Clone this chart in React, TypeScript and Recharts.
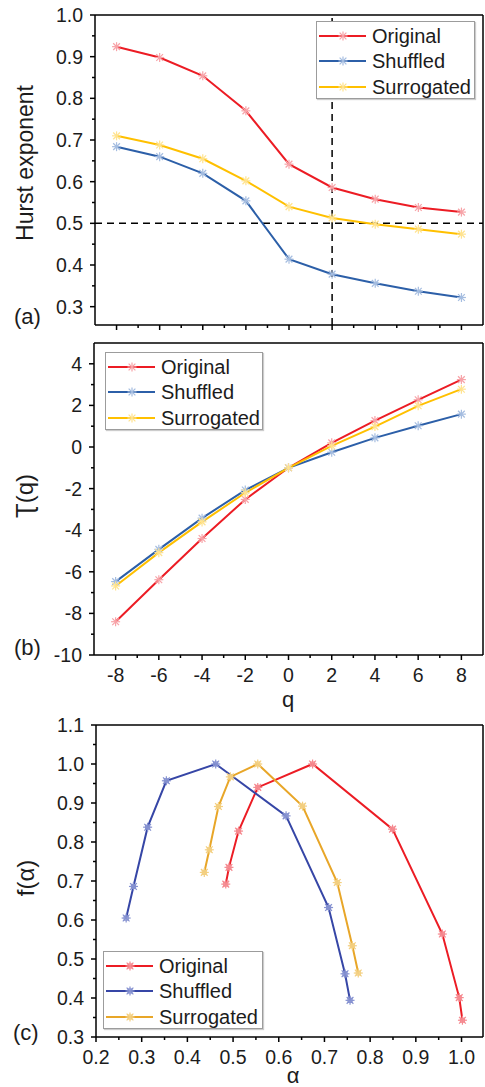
import React from 'react';
import { LineChart, Line, XAxis, YAxis, ReferenceLine, Legend, Label } from 'recharts';

const FONT = '"Liberation Sans", Arial, Helvetica, sans-serif';
const INK = '#1c1c1c';

// (a) generalized Hurst exponent h(q)
const qValues = [-8, -6, -4, -2, 0, 2, 4, 6, 8];
const hurstOriginal = [0.924, 0.898, 0.854, 0.77, 0.642, 0.586, 0.558, 0.538, 0.527];
const hurstShuffled = [0.684, 0.66, 0.62, 0.554, 0.414, 0.378, 0.356, 0.337, 0.322];
const hurstSurrogated = [0.71, 0.688, 0.655, 0.602, 0.54, 0.513, 0.498, 0.486, 0.474];

// (b) mass exponent tau(q)
const tauOriginal = [-8.4, -6.38, -4.4, -2.52, -1.0, 0.2, 1.27, 2.27, 3.24];
const tauShuffled = [-6.47, -4.92, -3.42, -2.07, -1.0, -0.25, 0.44, 1.02, 1.58];
const tauSurrogated = [-6.68, -5.08, -3.6, -2.2, -1.0, 0.05, 0.98, 1.98, 2.78];

// (c) singularity spectrum f(alpha)
const alphaOriginal = [0.484, 0.491, 0.512, 0.554, 0.674, 0.849, 0.958, 0.995, 1.002];
const fOriginal = [0.692, 0.735, 0.828, 0.94, 1.0, 0.833, 0.564, 0.401, 0.343];
const alphaShuffled = [0.266, 0.282, 0.313, 0.354, 0.462, 0.616, 0.709, 0.745, 0.756];
const fShuffled = [0.605, 0.686, 0.838, 0.957, 1.0, 0.867, 0.632, 0.462, 0.394];
const alphaSurrogated = [0.437, 0.448, 0.468, 0.494, 0.554, 0.652, 0.728, 0.761, 0.774];
const fSurrogated = [0.722, 0.78, 0.891, 0.967, 1.0, 0.892, 0.696, 0.534, 0.464];

// ticks
const qMajor = [-8, -6, -4, -2, 0, 2, 4, 6, 8];
const qMinor = [-7, -5, -3, -1, 1, 3, 5, 7];
const hurstMajor = [0.3, 0.4, 0.5, 0.6, 0.7, 0.8, 0.9, 1.0];
const hurstMinor = [0.35, 0.45, 0.55, 0.65, 0.75, 0.85, 0.95];
const tauMajor = [-10, -8, -6, -4, -2, 0, 2, 4];
const tauMinor = [-9, -7, -5, -3, -1, 1, 3];
const alphaMajor = [0.2, 0.3, 0.4, 0.5, 0.6, 0.7, 0.8, 0.9, 1.0];
const alphaMinor = [0.25, 0.35, 0.45, 0.55, 0.65, 0.75, 0.85, 0.95];
const fMajor = [0.3, 0.4, 0.5, 0.6, 0.7, 0.8, 0.9, 1.0, 1.1];
const fMinor = [0.35, 0.45, 0.55, 0.65, 0.75, 0.85, 0.95, 1.05];

const seriesNames = ['Original', 'Shuffled', 'Surrogated'];

const hurstData = qValues.map((q, i) => ({
  q,
  Original: hurstOriginal[i],
  Shuffled: hurstShuffled[i],
  Surrogated: hurstSurrogated[i],
}));
const tauData = qValues.map((q, i) => ({
  q,
  Original: tauOriginal[i],
  Shuffled: tauShuffled[i],
  Surrogated: tauSurrogated[i],
}));
const spectrum: Record<string, { alpha: number; f: number }[]> = {
  Original: alphaOriginal.map((a, i) => ({ alpha: a, f: fOriginal[i] })),
  Shuffled: alphaShuffled.map((a, i) => ({ alpha: a, f: fShuffled[i] })),
  Surrogated: alphaSurrogated.map((a, i) => ({ alpha: a, f: fSurrogated[i] })),
};

const COLORS_AB: Record<string, { line: string; mark: string }> = {
  Original: { line: '#ec1c24', mark: '#f7a3a8' },
  Shuffled: { line: '#2c5fa8', mark: '#a5bde0' },
  Surrogated: { line: '#ffc000', mark: '#ffe38f' },
};
const COLORS_C: Record<string, { line: string; mark: string }> = {
  Original: { line: '#ec1c24', mark: '#f58a90' },
  Shuffled: { line: '#3646a6', mark: '#8591d0' },
  Surrogated: { line: '#e8a628', mark: '#f3cf80' },
};

const FRAME = { stroke: '#000', strokeWidth: 1.5 };

function Star({ cx, cy, color, boxed }: any) {
  if (cx == null || cy == null) return null;
  const r = 4.5;
  const d = r * 0.75;
  return (
    <g stroke={color} strokeWidth={1.2} fill="none">
      <line x1={cx - r} y1={cy} x2={cx + r} y2={cy} />
      <line x1={cx} y1={cy - r} x2={cx} y2={cy + r} />
      <line x1={cx - d} y1={cy - d} x2={cx + d} y2={cy + d} />
      <line x1={cx - d} y1={cy + d} x2={cx + d} y2={cy - d} />
      {boxed && <rect x={cx - 2} y={cy - 2} width={4} height={4} />}
    </g>
  );
}

const isIn = (list: number[], v: number) => list.some((m) => Math.abs(m - v) < 1e-9);

function makeXTick(major: number[], showLabels: boolean, digits: number) {
  return (props: any) => {
    const { x, y, payload } = props;
    const v = payload.value;
    const big = isIn(major, v);
    return (
      <g>
        <line x1={x} x2={x} y1={y} y2={y + (big ? 5 : 3)} stroke="#000" strokeWidth={1.5} />
        {big && showLabels && (
          <text x={x} y={y + 26.5} textAnchor="middle" fontSize={19.5} fontFamily={FONT} fill={INK}>
            {v.toFixed(digits)}
          </text>
        )}
      </g>
    );
  };
}

function makeYTick(major: number[], digits: number) {
  return (props: any) => {
    const { x, y, payload } = props;
    const v = payload.value;
    const big = isIn(major, v);
    return (
      <g>
        <line x1={x} x2={x - (big ? 5 : 3)} y1={y} y2={y} stroke="#000" strokeWidth={1.5} />
        {big && (
          <text x={x - 12} y={y + 7} textAnchor="end" fontSize={19.5} fontFamily={FONT} fill={INK}>
            {v.toFixed(digits)}
          </text>
        )}
      </g>
    );
  };
}

function title(text: string, x: number, y: number, rotate: boolean, size = 23) {
  return () => (
    <text
      transform={rotate ? `translate(${x},${y}) rotate(-90)` : `translate(${x},${y})`}
      textAnchor={rotate ? 'middle' : 'start'}
      fontSize={size}
      fontFamily={FONT}
      fill={INK}
    >
      {text}
    </text>
  );
}

function centered(text: string, x: number, y: number, size = 23) {
  return () => (
    <text x={x} y={y} textAnchor="middle" fontSize={size} fontFamily={FONT} fill={INK}>
      {text}
    </text>
  );
}

function LegendBox({ colors, boxed }: { colors: Record<string, { line: string; mark: string }>; boxed: boolean }) {
  return (
    <div
      style={{
        border: '1px solid #9c9c9c',
        boxShadow: '1px 1px 1px rgba(0,0,0,0.2)',
        background: '#fff',
        boxSizing: 'border-box',
        width: '100%',
        height: 78,
        paddingTop: 1,
      }}
    >
      {seriesNames.map((name) => (
        <div key={name} style={{ display: 'flex', alignItems: 'center', height: 25.5 }}>
          <svg width={50} height={20} style={{ marginLeft: 2, flex: 'none' }}>
            <line x1={0} x2={47} y1={10} y2={10} stroke={colors[name].line} strokeWidth={2} />
            <Star cx={24} cy={10} color={colors[name].mark} boxed={boxed} />
          </svg>
          <span style={{ marginLeft: 3, fontSize: 20, fontFamily: FONT, color: INK, lineHeight: '20px', whiteSpace: 'nowrap' }}>
            {name}
          </span>
        </div>
      ))}
    </div>
  );
}

export default function App() {
  return (
    <div style={{ position: 'absolute', left: 0, top: 0, width: 485, height: 1087, background: '#fff', overflow: 'hidden' }}>
      {/* (a) Hurst exponent */}
      <div style={{ position: 'absolute', left: 0, top: 0 }}>
        <LineChart width={485} height={340} data={hurstData} margin={{ top: 15, right: 2, bottom: 0, left: 0 }}>
          <XAxis
            dataKey="q"
            type="number"
            domain={[-9, 9]}
            allowDataOverflow
            ticks={[...qMajor, ...qMinor]}
            interval={0}
            tickSize={0}
            tickMargin={0}
            tickLine={false}
            height={15}
            axisLine={FRAME}
            tick={makeXTick(qMajor, false, 0)}
          />
          <YAxis
            type="number"
            domain={[0.256, 1.0]}
            allowDataOverflow
            ticks={[...hurstMajor, ...hurstMinor]}
            interval={0}
            tickSize={0}
            tickMargin={0}
            tickLine={false}
            width={95}
            axisLine={FRAME}
            tick={makeYTick(hurstMajor, 1)}
          >
            <Label content={title('Hurst exponent', 33, 163, true)} />
            <Label content={title('(a)', 14, 323.5, false, 22)} />
          </YAxis>
          <ReferenceLine y={1.0} {...FRAME} />
          <ReferenceLine x={9} {...FRAME} />
          <ReferenceLine y={0.5} stroke="#000" strokeWidth={1.5} strokeDasharray="7 5" />
          <ReferenceLine x={2} stroke="#000" strokeWidth={1.5} strokeDasharray="7 5" />
          {seriesNames.map((name) => (
            <Line
              key={name}
              dataKey={name}
              stroke={COLORS_AB[name].line}
              strokeWidth={2}
              isAnimationActive={false}
              activeDot={false}
              dot={(p: any) => <Star key={`${name}-${p.index}`} cx={p.cx} cy={p.cy} color={COLORS_AB[name].mark} />}
            />
          ))}
          <Legend
            layout="vertical"
            align="center"
            verticalAlign="middle"
            wrapperStyle={{ left: 316, top: 21, width: 159, height: 78 }}
            content={() => <LegendBox colors={COLORS_AB} boxed={false} />}
          />
        </LineChart>
      </div>

      {/* (b) tau(q) */}
      <div style={{ position: 'absolute', left: 0, top: 330 }}>
        <LineChart width={485} height={385} data={tauData} margin={{ top: 13, right: 2, bottom: 30, left: 0 }}>
          <XAxis
            dataKey="q"
            type="number"
            domain={[-9, 9]}
            allowDataOverflow
            ticks={[...qMajor, ...qMinor]}
            interval={0}
            tickSize={0}
            tickMargin={0}
            tickLine={false}
            height={30}
            axisLine={FRAME}
            tick={makeXTick(qMajor, true, 0)}
          >
            <Label content={centered('q', 288, 377, 22)} />
          </XAxis>
          <YAxis
            type="number"
            domain={[-10, 5]}
            allowDataOverflow
            ticks={[...tauMajor, ...tauMinor]}
            interval={0}
            tickSize={0}
            tickMargin={0}
            tickLine={false}
            width={94}
            axisLine={FRAME}
            tick={makeYTick(tauMajor, 0)}
          >
            <Label content={title('Ʈ(q)', 33, 166, true, 24)} />
            <Label content={title('(b)', 14, 325, false, 22)} />
          </YAxis>
          <ReferenceLine y={5} {...FRAME} />
          <ReferenceLine x={9} {...FRAME} />
          {seriesNames.map((name) => (
            <Line
              key={name}
              dataKey={name}
              stroke={COLORS_AB[name].line}
              strokeWidth={2}
              isAnimationActive={false}
              activeDot={false}
              dot={(p: any) => <Star key={`${name}-${p.index}`} cx={p.cx} cy={p.cy} color={COLORS_AB[name].mark} />}
            />
          ))}
          <Legend
            layout="vertical"
            align="center"
            verticalAlign="middle"
            wrapperStyle={{ left: 105, top: 22, width: 158, height: 78 }}
            content={() => <LegendBox colors={COLORS_AB} boxed={false} />}
          />
        </LineChart>
      </div>

      {/* (c) f(alpha) */}
      <div style={{ position: 'absolute', left: 0, top: 700 }}>
        <LineChart width={485} height={387} margin={{ top: 25, right: 2, bottom: 20, left: 0 }}>
          <XAxis
            dataKey="alpha"
            type="number"
            domain={[0.2, 1.047]}
            allowDataOverflow
            ticks={[...alphaMajor, ...alphaMinor]}
            interval={0}
            tickSize={0}
            tickMargin={0}
            tickLine={false}
            height={30}
            axisLine={FRAME}
            tick={makeXTick(alphaMajor, true, 1)}
          >
            <Label content={centered('α', 293, 383, 22)} />
          </XAxis>
          <YAxis
            dataKey="f"
            type="number"
            domain={[0.3, 1.1]}
            allowDataOverflow
            ticks={[...fMajor, ...fMinor]}
            interval={0}
            tickSize={0}
            tickMargin={0}
            tickLine={false}
            width={96}
            axisLine={FRAME}
            tick={makeYTick(fMajor, 1)}
          >
            <Label content={title('f(α)', 34, 178, true, 24)} />
            <Label content={title('(c)', 13, 340, false, 22)} />
          </YAxis>
          <ReferenceLine y={1.1} {...FRAME} />
          <ReferenceLine x={1.047} {...FRAME} />
          {seriesNames.map((name) => (
            <Line
              key={name}
              data={spectrum[name]}
              dataKey="f"
              stroke={COLORS_C[name].line}
              strokeWidth={2}
              isAnimationActive={false}
              activeDot={false}
              dot={(p: any) => <Star key={`${name}-${p.index}`} cx={p.cx} cy={p.cy} color={COLORS_C[name].mark} boxed />}
            />
          ))}
          <Legend
            layout="vertical"
            align="center"
            verticalAlign="middle"
            wrapperStyle={{ left: 103, top: 251, width: 160, height: 78 }}
            content={() => <LegendBox colors={COLORS_C} boxed />}
          />
        </LineChart>
      </div>
    </div>
  );
}
